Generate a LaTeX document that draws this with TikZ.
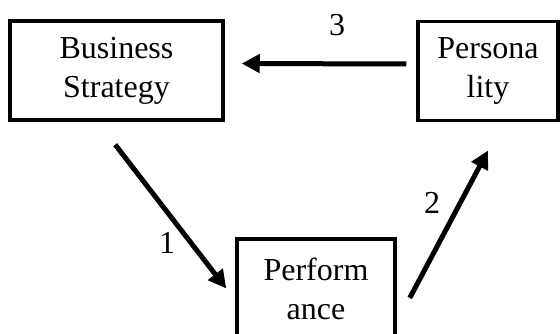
\documentclass[tikz,border=0pt]{standalone}
\usepackage{fontspec}
\setmainfont{Liberation Serif}
\usetikzlibrary{arrows.meta}
\begin{document}
\begin{tikzpicture}[x=1pt, y=1pt, every node/.style={font=\fontsize{32}{39}\selectfont},
        box/.style={draw, line width=3.5pt, minimum height=99pt, minimum width=#1, align=center, inner sep=0pt},
        link/.style={line width=5pt, -{Triangle[length=18pt, width=18pt]}}]
        \useasboundingbox (0, 0) rectangle (560, 334);

        \node[box=213pt] (bs) at (116.5, 263.5) {Business\\Strategy};
        \node[box=140pt] (pers) at (488, 263) {Persona\\lity};
        \node[box=158pt] (perf) at (316, 45.5) {Perform\\ance};

        \node (one) at (167, 91) {1};
        \node (two) at (432, 131) {2};
        \node (three) at (337, 309) {3};

        \draw[link, shorten <=29pt] ([xshift=-19pt]bs.south) -- ([xshift=-9pt]perf.west);
        \draw[link, shorten >=32pt] ([shift={(13, -9.5)}]perf.east) -- ([xshift=15pt]pers.south);
        \draw[link, shorten <=10pt, shorten >=17pt] ([yshift=7pt]pers.west) -- ([yshift=7pt]bs.east);
    \end{tikzpicture}
\end{document}
